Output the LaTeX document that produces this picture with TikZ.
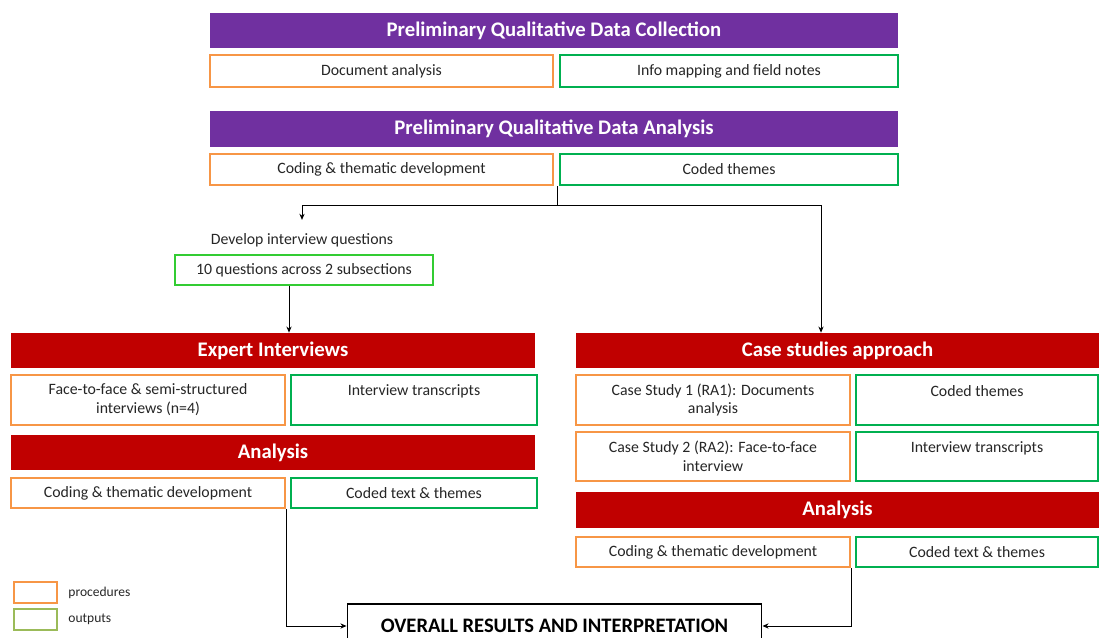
\documentclass[tikz,border=0pt]{standalone}
\usepackage{fontspec}
\setmainfont{Carlito}
\usetikzlibrary{positioning,arrows.meta,calc}
\definecolor{hdpurple}{HTML}{7030A0}
\definecolor{hdred}{HTML}{C00000}
\definecolor{procorange}{HTML}{F79646}
\definecolor{outgreen}{HTML}{00B050}
\definecolor{qgreen}{HTML}{33CC33}
\definecolor{leggreen}{HTML}{9BBB59}
\definecolor{txtgray}{HTML}{262626}

\begin{document}
\begin{tikzpicture}[x=0.02cm, y=-0.02cm,
    header/.style={fill=#1, text=white, minimum width=10.48cm, minimum height=0.7cm, inner sep=0pt, font=\fontsize{11.8}{13}\selectfont\bfseries},
    procbox/.style={draw=procorange, line width=1.6pt, fill=white, text=txtgray, minimum width=5.48cm, minimum height=0.6cm, inner sep=0pt, align=center, font=\fontsize{9}{10.8}\selectfont},
    outbox/.style={procbox, draw=outgreen, minimum width=4.92cm},
    arrow/.style={-{Stealth[length=3.5pt, width=3pt]}, line width=0.5pt},
    label/.style={font=\fontsize{9}{10.8}\selectfont, text=txtgray, align=center},
    legbox/.style={draw=#1, line width=1.2pt, minimum width=0.86cm, minimum height=0.42cm, inner sep=0pt},
    legtext/.style={font=\fontsize{7.7}{9}\selectfont, text=txtgray, inner sep=0pt}
]
\useasboundingbox (0,0) rectangle (1099,638);

% Preliminary collection
\node[header=hdpurple, minimum width=13.76cm] (pqcollect) at (554,30.5) {Preliminary Qualitative Data Collection};
\node[procbox, minimum width=6.86cm, minimum height=0.64cm] (docanalysis) at (381.5,71) {Document analysis};
\node[outbox, minimum width=6.76cm, minimum height=0.64cm] (infomap) at (729,71) {Info mapping and field notes};

% Preliminary analysis
\node[header=hdpurple, minimum width=13.76cm, minimum height=0.72cm] (pqanalysis) at (554,129) {Preliminary Qualitative Data Analysis};
\node[procbox, minimum width=6.86cm, minimum height=0.62cm] (prelcoding) at (381.5,169.5) {Coding \& thematic development};
\node[outbox, minimum width=6.76cm, minimum height=0.62cm] (prelthemes) at (729,169.5) {Coded themes};

% Interview questions
\node[label, inner sep=0.26cm] (develop) at (302,240) {Develop interview questions};
\node[procbox, draw=qgreen, line width=0.8pt, minimum width=5.16cm] (questions) at (304,270) {10 questions across 2 subsections};

% Expert interviews
\node[header=hdred] (expert) at (273,350.5) {Expert Interviews};
\node[procbox, minimum height=1.0cm] (facetoface) at (148,400) {Face-to-face \& semi-structured\\interviews (n=4)};
\node[outbox, minimum height=1.0cm] (transcripts) at (414,400) {Interview transcripts\\ \mbox{}};
\node[header=hdred] (analysisA) at (273,452.5) {Analysis};
\node[procbox] (codingA) at (148,493) {Coding \& thematic development};
\node[outbox] (themesA) at (414,493) {Coded text \& themes};

% Case studies
\node[header=hdred, minimum width=10.46cm] (cases) at (837.5,350.5) {Case studies approach};
\node[procbox, minimum height=1.0cm] (caseone) at (713,400) {Case Study 1 (RA1): Documents\\analysis};
\node[outbox, minimum width=4.84cm, minimum height=1.0cm] (casethemes) at (977,400) {Coded themes\\ \mbox{}};
\node[procbox, minimum height=0.98cm] (casetwo) at (713,456.5) {Case Study 2 (RA2): Face-to-face\\interview};
\node[outbox, minimum width=4.84cm, minimum height=0.98cm] (casetranscripts) at (977,456.5) {Interview transcripts\\ \mbox{}};
\node[header=hdred, minimum width=10.46cm, minimum height=0.72cm] (analysisB) at (837.5,510) {Analysis};
\node[procbox] (codingB) at (713,552) {Coding \& thematic development};
\node[outbox, minimum width=4.84cm] (themesB) at (977,552) {Coded text \& themes};

% Overall
\node[draw=black, line width=0.6pt, fill=white, minimum width=8.3cm, minimum height=0.88cm, font=\fontsize{11.7}{13}\selectfont\bfseries] (overall) at (554.5,626) {OVERALL RESULTS AND INTERPRETATION};

% Legend
\node[legbox=procorange] (legproc) at (35.5,592.5) {};
\node[legtext, right=0.2cm of legproc] (procname) {procedures};
\node[legbox=leggreen] (legout) at (35.5,619.5) {};
\node[legtext, right=0.2cm of legout] (outname) {outputs};

% Connectors
\coordinate (fork) at (557,205);
\coordinate (caseturn) at (821,205);
\draw[line width=0.5pt] (fork |- prelcoding.south) -- (fork);
\draw[arrow] (fork) -| (develop.north);
\draw[arrow] (fork) -- (caseturn) -- (caseturn |- cases.north);
\draw[arrow] ([xshift=-0.3cm]questions.south) coordinate (qdown) -- (qdown |- expert.north);
\draw[arrow] (codingA.south east) |- (overall.west);
\draw[arrow] (codingB.south east) |- (overall.east);

\end{tikzpicture}
\end{document}
